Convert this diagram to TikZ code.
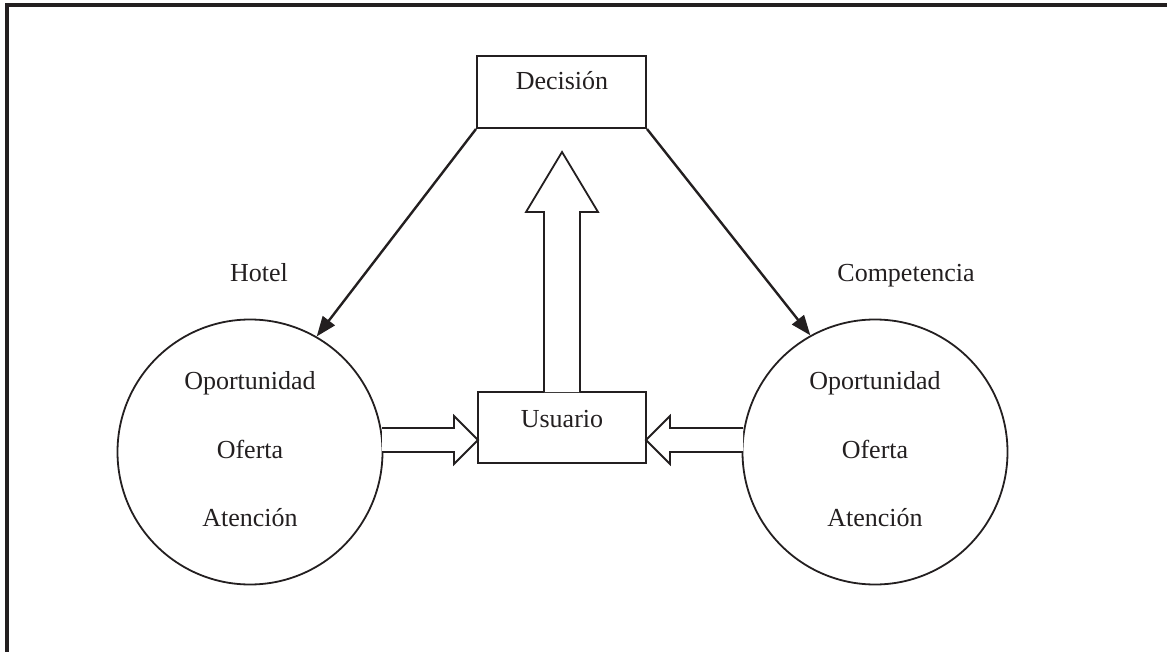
\documentclass[tikz,border=0pt]{standalone}
\usepackage{fontspec}
\setmainfont{Liberation Serif}
\usetikzlibrary{arrows.meta}

\definecolor{ink}{RGB}{35,31,32}

\tikzset{
    box/.style={draw=ink, line width=2pt, inner sep=0pt},
    ring/.style={draw=ink, line width=1.8pt, circle, minimum size=265pt, inner sep=0pt},
    word/.style={anchor=base, text=ink, inner sep=0pt, font=\fontsize{26}{31}\selectfont},
    hollow/.style={draw=ink, fill=white, line width=1.8pt, line join=miter},
    link/.style={draw=ink, line width=2.4pt, -{Triangle[length=20pt,width=15pt]}},
    frame/.style={draw=ink, line width=4pt}
}

\begin{document}
\begin{tikzpicture}[x=1pt, y=-1pt]
    \useasboundingbox (0,0) rectangle (1167,652);

    % Draw outer frame (top and left edges)
    \draw[frame] (1167,5) -- (7,5) -- (7,652);

    % Boxes
    \node[box, minimum width=169pt, minimum height=72pt] (decision) at (561.5,92) {};
    \node[word] (decisiontxt) at (562,90) {Decisión};

    \node[box, minimum width=168pt, minimum height=71pt] (usuario) at (562,427.5) {};
    \node[word] (usuariotxt) at (562,427) {Usuario};

    % Circles
    \node[ring] (hotel) at (250,452) {};
    \node[ring] (comp) at (875,452) {};

    % Circle labels
    \node[word] (hotellbl) at (259,282) {Hotel};
    \node[word] (complbl) at (906,282) {Competencia};

    \node[word] (hotelA) at (250,389) {Oportunidad};
    \node[word] (hotelB) at (250,458) {Oferta};
    \node[word] (hotelC) at (250,526) {Atención};

    \node[word] (compA) at (875,389) {Oportunidad};
    \node[word] (compB) at (875,458) {Oferta};
    \node[word] (compC) at (875,526) {Atención};

    % Draw decision arrows
    \draw[link] (decision.south west) -- (hotel.60.6);
    \draw[link] (decision.south east) -- (comp.119.8);

    % Hollow arrows into the user box
    \coordinate (lefttip) at (478,440);
    \coordinate (righttip) at (646,440);
    \coordinate (uptip) at (562,152);

    \draw[hollow] (382,428) -- (454,428) -- (454,416) -- (lefttip)
        -- (454,464) -- (454,452) -- (382,452);
    \draw[hollow] (743,428) -- (670,428) -- (670,416) -- (righttip)
        -- (670,464) -- (670,452) -- (743,452);

    % Hollow arrow up to the decision
    \draw[hollow] (544,392) -- (544,212) -- (526,212) -- (uptip)
        -- (598,212) -- (580,212) -- (580,392);
\end{tikzpicture}
\end{document}
